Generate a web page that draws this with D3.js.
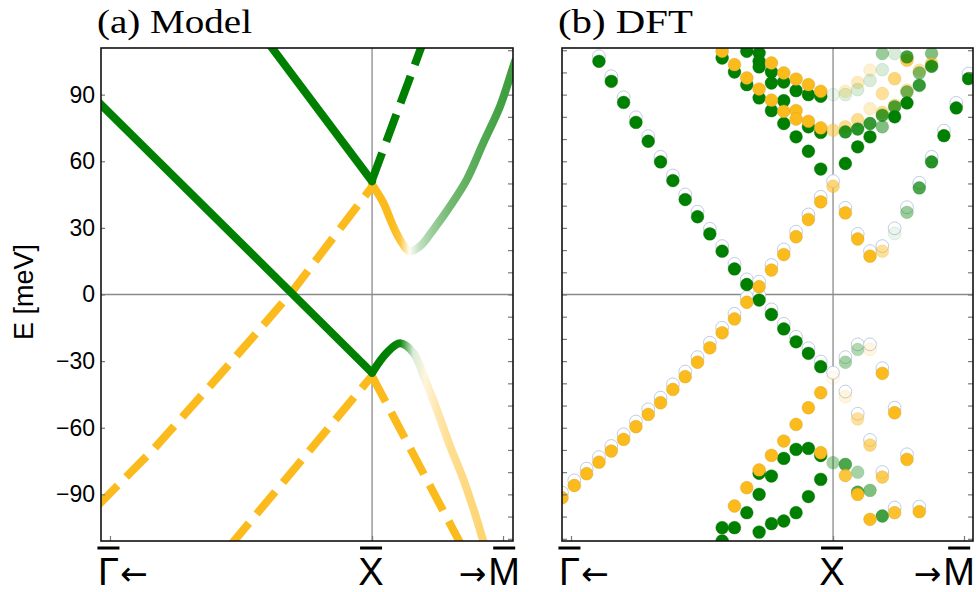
<!DOCTYPE html>
<html>
<head>
<meta charset="utf-8">
<script src="https://d3js.org/d3.v7.min.js"></script>
<style>
  body { margin: 0; background: #fff; }
  svg { display: block; }
</style>
</head>
<body>
<script>
// k is measured in steps of the DFT k-grid, X point at 0
const energyTicks = [-90, -60, -30, 0, 30, 60, 90];
const energyMinor = [-110, -100, -90, -80, -70, -60, -50, -40, -30, -20, -10, 0, 10, 20, 30, 40, 50, 60, 70, 80, 90, 100, 110];
const kTicks = [-21.27, 0, 10.63];
const kLetters = ["Γ", "X", "M"];
const panelTitles = ["(a) Model", "(b) DFT"];

// ---- panel (a) model bands ----
const lowerSolidK = [-22.3, 0];
const lowerSolidE = [87.2, -35.25];
const upperSolidK = [-8.6, 0];
const upperSolidE = [114.6, 51];
const greenDashK = [0, 4.2];
const greenDashE = [51.5, 114.5];
const yellowDashAK = [-22.3, -17.75, -13.4, -9.6, -6.6, -3.1, 0];
const yellowDashAE = [-95.3, -69.75, -42.75, -18.75, 0.5, 26, 48.5];
const yellowDashBK = [-11.5, 0];
const yellowDashBE = [-113, -36.6];
const yellowDashCK = [0, 7.3];
const yellowDashCE = [-36.75, -113.4];
// weight: +1 yellow, -1 green, 0 white
const upperMixK = [0, 0.92, 1.6, 2.27, 3.03, 3.9, 4.98, 6.33, 7.69, 9.03, 10.39, 11.34, 11.6];
const upperMixE = [49.5, 41.25, 32.25, 24.75, 19.5, 21.75, 29.25, 39.75, 51.75, 68.25, 84.75, 100.5, 105];
const upperMixW = [1, 1, 1, 0.85, 0.05, -0.25, -0.4, -0.55, -0.62, -0.68, -0.74, -0.76, -0.76];
const lowerMixK = [0, 1.19, 2.27, 3.35, 4.3, 5.25, 6.33, 7.41, 8.5, 8.99, 9.4];
const lowerMixE = [-35.25, -26.25, -22, -26.25, -38.25, -51.75, -68.25, -83.25, -101.25, -110.25, -116];
const lowerMixW = [-1, -1, -0.95, -0.15, 0.15, 0.35, 0.48, 0.55, 0.6, 0.62, 0.62];

// ---- panel (b) DFT points ----
const diracGreenK = [-19, -18, -17, -16, -15, -14, -13, -12, -11, -10, -9, -8, -7, -6, -5, -4, -3, -2, -1, 0, 1, 2, 3, 4, 5];
const diracGreenE = [105, 96, 86.5, 77.5, 69, 59.7, 51.3, 42.75, 35, 27.3, 19.5, 11.5, 4.5, -2.5, -9, -15.5, -21.3, -26.5, -32.5, -37.5, -46, -56, -67.8, -82.2, -98.25];
const diracGreenW = [-1, -1, -1, -1, -1, -1, -1, -1, -1, -1, -1, -1, -1, -1, -1, -1, -1, -1, -1, 0.08, 0.15, 0.45, 0.6, 0.75, 0.9];
const diracYellowK = [-22, -21, -20, -19, -18, -17, -16, -15, -14, -13, -12, -11, -10, -9, -8, -7, -6, -5, -4, -3, -2, -1, 0, 1, 2, 3, 4, 5, 6, 7, 8, 9, 10, 11];
const diracYellowE = [-91.5, -86, -80.7, -75.5, -70.5, -65.25, -59.5, -54, -48.75, -42.75, -37, -30.5, -24, -17.25, -11, -3.5, 3.5, 11, 18, 26, 33.75, 41.7, 48.75, 36.75, 25, 17.25, 19.5, 27.5, 37, 48, 59.7, 71.5, 84, 97.2];
const diracYellowW = [1, 1, 1, 1, 1, 1, 1, 1, 1, 1, 1, 1, 1, 1, 1, 1, 1, 1, 1, 1, 1, 1, 0.6, 1, 1, 1, 0.45, -0.08, -0.4, -0.7, -0.85, -1, -1, -1];
const lowRightK = [1, 2, 3, 4, 5, 6, 7];
const lowRightE = [-30.5, -24.75, -24.75, -35.5, -53.25, -74.25, -97.8];
const lowRightW = [-0.35, -0.3, 0.15, 1, 1, 1, 1];

const valenceYellowK = [-8, -7, -6, -5, -4, -3, -2, -1];
const valenceYellowE = [-95.25, -87, -79, -72.45, -66, -58.5, -51, -44.25];
const lowerGreenK = [-9, -9, -8, -7, -6, -6, -6, -5, -5, -4, -4, -3, -3, -2, -2, -1, -1, 0, 1, 2, 2, 3, 4];
const lowerGreenE = [-111, -105, -105, -98.25, -80.5, -90, -107, -81.75, -103.2, -73.8, -102, -69.75, -98.25, -69.3, -91, -72.5, -83.25, -75.75, -76.5, -80, -89, -88.2, -99.75];
const lowerGreenW = [-1, -1, -1, -1, -1, -1, -1, -1, -1, -1, -1, -1, -1, -1, -1, -1, -1, -0.35, -0.7, -0.35, -0.7, -0.5, -0.75];
const lowerYellowK = [-1, 1, 2, 3];
const lowerYellowE = [-71.25, -81.5, -90, -101.25];
const lowerYellowW = [1, 0.85, 1, 1];

const upperGreenK = [-9, -8, -7, -7, -6, -6, -6, -6, -5, -5, -5, -4, -4, -4, -3, -3, -2, -2, -2, -1, -1, -1];
const upperGreenE = [106.5, 100.2, 109.5, 94.5, 108.75, 105, 102.5, 88.5, 100.2, 95.25, 82.8, 95.7, 87.3, 77, 91.8, 71, 90, 75.5, 64.5, 89.25, 73, 56.5];
const upperYellowK = [-9, -8, -7, -6, -5, -5, -4, -4, -3, -3, -3, -2, -2, -1, -1];
const upperYellowE = [109.5, 103.5, 97.5, 92.5, 104.25, 87.5, 99.75, 82.5, 97, 82.8, 79, 94.5, 78, 91.5, 75];
const upperRightK = [0, 0, 1, 1, 1, 1, 1, 2, 2, 2, 2, 2, 3, 3, 3, 3, 3, 4, 4, 4, 4, 4, 4, 5, 5, 5, 5, 5, 6, 6, 6, 6, 6, 7, 7, 7, 8, 8, 8];
const upperRightE = [90, 74, 91.5, 90, 75.5, 73.2, 59, 95.5, 92.25, 78.75, 74.5, 66.5, 101, 96.4, 83.7, 77, 71, 108.5, 101.25, 90.5, 82, 80.7, 75.5, 108.5, 97.2, 85.2, 84.5, 80, 105.5, 107, 92, 91.2, 86.25, 101, 99.75, 94.2, 108.5, 104, 102.75];
const upperRightW = [-0.08, 0.5, 0.25, -0.12, 0.5, -0.85, -1, 0.3, -0.15, 0.5, -0.85, -1, 0.2, -0.15, 0.25, -0.8, -1, -0.4, -0.15, 0.45, 0.5, -0.75, -0.5, -0.15, 0.6, 0.5, -0.7, -1, 0.75, -0.75, 0.4, -0.55, -1, 0.4, -0.5, -0.8, -0.5, 0.6, -0.85];

const partnerShift = 2.3; // faint partner state sits just above

const yellow = "#fcbb1c", green = "#008000";
const sans = "'Liberation Sans', Arial, sans-serif";
const serif = "'Liberation Serif', 'Times New Roman', serif";
const arrowFont = "'DejaVu Sans', sans-serif";

const svg = d3.select("body").append("svg").attr("width", 978).attr("height", 592);
const defs = svg.append("defs");

const y = d3.scaleLinear().domain([-111, 111]).range([541, 48]);
const xA = d3.scaleLinear().domain([-22, 11.44]).range([101, 513]);
const xB = d3.scaleLinear().domain([-22, 11.36]).range([562, 973]);

function mix(w) {
    return d3.interpolateRgb("#ffffff", w >= 0 ? yellow : green)(Math.abs(w));
}

function setupPanel(x, id) {
    const [x0, x1] = x.range();
    defs.append("clipPath").attr("id", "clip" + id)
        .append("rect").attr("x", x0).attr("y", y(111)).attr("width", x1 - x0).attr("height", y(-111) - y(111));
    const g = svg.append("g");
    // reference lines
    g.append("line").attr("x1", x0).attr("x2", x1).attr("y1", y(0)).attr("y2", y(0))
        .attr("stroke", "#8a8a8a").attr("stroke-width", 1.3);
    g.append("line").attr("x1", x(0)).attr("x2", x(0)).attr("y1", y(111)).attr("y2", y(-111))
        .attr("stroke", "#8a8a8a").attr("stroke-width", 1.3);
    const plot = g.append("g").attr("clip-path", `url(#clip${id})`);
    return { g, plot };
}

function overbar(lab, t, index) {
    const ext = t.node().getExtentOfChar(index);
    lab.append("rect").attr("x", ext.x + ext.width / 2 - 11).attr("y", 546.5)
        .attr("width", 22).attr("height", 3).attr("fill", "#000");
}

function finishPanel(g, x, id, leftLabels) {
    const [x0, x1] = x.range();
    // left axis
    const left = g.append("g").attr("transform", `translate(${x0},0)`)
        .call(leftLabels
            ? d3.axisLeft(y).tickValues(energyTicks).tickSize(-4).tickPadding(6)
            : d3.axisLeft(y).tickValues(energyMinor).tickSize(-5).tickFormat(""));
    // right axis
    const right = g.append("g").attr("transform", `translate(${x1},0)`)
        .call(d3.axisRight(y).tickValues(energyMinor).tickSize(-5).tickFormat(""));
    // bottom ticks
    const bottom = g.append("g").attr("transform", `translate(0,${y(-111)})`)
        .call(d3.axisBottom(x).tickValues(kTicks).tickSize(-5).tickFormat(""));
    [left, right, bottom].forEach(a => {
        a.select(".domain").remove();
        a.selectAll(".tick line").attr("stroke", "#7a7a7a").attr("stroke-width", 1.2);
    });
    left.attr("font-family", sans).attr("font-size", 23);
    left.selectAll(".tick text").attr("fill", "#000");

    // frame
    g.append("rect").attr("x", x0).attr("y", y(111)).attr("width", x1 - x0).attr("height", y(-111) - y(111))
        .attr("fill", "none").attr("stroke", "#111").attr("stroke-width", 1.6);

    // k labels with overbars
    const lab = g.append("g").attr("font-family", sans).attr("font-size", 38).attr("fill", "#000");

    // Γ ←
    const tG = lab.append("text").attr("x", x(kTicks[0]) - 12).attr("y", 585);
    tG.append("tspan").text(kLetters[0]);
    tG.append("tspan").attr("dx", 1).attr("font-family", arrowFont).attr("font-size", 33).text("←");
    overbar(lab, tG, 0);

    // X
    const tX = lab.append("text").attr("x", x(kTicks[1]) - 1).attr("y", 585).attr("text-anchor", "middle").text(kLetters[1]);
    overbar(lab, tX, 0);

    // → M
    let endX = x(kTicks[2]) + 17;
    const tM = lab.append("text").attr("x", endX).attr("y", 585).attr("text-anchor", "end");
    tM.append("tspan").attr("font-family", arrowFont).attr("font-size", 33).text("→");
    tM.append("tspan").attr("dx", 2).text(kLetters[2]);
    const bb = tM.node().getBBox();
    if (bb.x + bb.width > 975) {
        endX -= bb.x + bb.width - 975;
        tM.attr("x", endX);
    }
    overbar(lab, tM, 1);
}

const line = x => d3.line().x(d => x(d[0])).y(d => y(d[1]));

function plainLine(plot, x, K, E, color, dashed) {
    plot.append("path").datum(K.map((k, i) => [k, E[i]]))
        .attr("d", line(x))
        .attr("fill", "none").attr("stroke", color).attr("stroke-width", 8)
        .attr("stroke-linecap", dashed ? "butt" : "round")
        .attr("stroke-dasharray", dashed ? "29,12" : null);
}

function mixedLine(plot, x, K, E, Wt, id) {
    const a = x(K[0]), b = x(K[K.length - 1]);
    const grad = defs.append("linearGradient").attr("id", id).attr("gradientUnits", "userSpaceOnUse")
        .attr("x1", a).attr("x2", b).attr("y1", 0).attr("y2", 0);
    K.forEach((k, i) => grad.append("stop").attr("offset", (x(k) - a) / (b - a)).attr("stop-color", mix(Wt[i])));
    plot.append("path").datum(K.map((k, i) => [k, E[i]]))
        .attr("d", line(x).curve(d3.curveCatmullRom))
        .attr("fill", "none").attr("stroke", `url(#${id})`).attr("stroke-width", 8)
        .attr("stroke-linecap", "round");
}

function title(x0, text, len) {
    svg.append("text").attr("x", x0).attr("y", 33).attr("font-family", serif).attr("font-size", 33)
        .attr("textLength", len).attr("lengthAdjust", "spacingAndGlyphs").text(text);
}

// ---- panel (a) ----
const pa = setupPanel(xA, "A");
plainLine(pa.plot, xA, yellowDashAK, yellowDashAE, yellow, true);
plainLine(pa.plot, xA, yellowDashBK, yellowDashBE, yellow, true);
plainLine(pa.plot, xA, yellowDashCK, yellowDashCE, yellow, true);
mixedLine(pa.plot, xA, upperMixK, upperMixE, upperMixW, "gradUpper");
mixedLine(pa.plot, xA, lowerMixK, lowerMixE, lowerMixW, "gradLower");
plainLine(pa.plot, xA, lowerSolidK, lowerSolidE, green, false);
plainLine(pa.plot, xA, upperSolidK, upperSolidE, green, false);
plainLine(pa.plot, xA, greenDashK, greenDashE, green, true);
finishPanel(pa.g, xA, "A", true);
title(97, panelTitles[0], 155);

// ---- panel (b) ----
const pb = setupPanel(xB, "B");
const r = 6.4;

function partners(K, E) {
    pb.plot.append("g").selectAll("circle").data(K.map((k, i) => [k, E[i]])).join("circle")
        .attr("cx", d => xB(d[0])).attr("cy", d => y(d[1] + partnerShift)).attr("r", r)
        .attr("fill", "#fff").attr("stroke", "#bfcde3").attr("stroke-width", 1);
}
function dots(K, E, Wt) {
    pb.plot.append("g").selectAll("circle").data(K.map((k, i) => [k, E[i], Wt[i]])).join("circle")
        .attr("cx", d => xB(d[0])).attr("cy", d => y(d[1])).attr("r", r)
        .attr("fill", d => d[2] >= 0 ? yellow : green)
        .attr("fill-opacity", d => Math.abs(d[2]))
        .attr("stroke", d => d[2] >= 0 ? "#c99a20" : "#0a6a0a")
        .attr("stroke-opacity", d => Math.max(0.15, Math.abs(d[2]) * 0.5))
        .attr("stroke-width", 0.7);
}
const ones = n => new Array(n).fill(1);

partners(diracGreenK, diracGreenE);
partners(diracYellowK, diracYellowE);
partners(lowRightK, lowRightE);

dots(lowerGreenK, lowerGreenE, lowerGreenW);
dots(valenceYellowK, valenceYellowE, ones(valenceYellowK.length));
dots(lowerYellowK, lowerYellowE, lowerYellowW);
dots(upperGreenK, upperGreenE, upperGreenK.map(() => -1));
dots(upperYellowK, upperYellowE, ones(upperYellowK.length));
dots(upperRightK, upperRightE, upperRightW);
dots(lowRightK, lowRightE, lowRightW);
dots(diracGreenK, diracGreenE, diracGreenW);
dots(diracYellowK, diracYellowE, diracYellowW);
finishPanel(pb.g, xB, "B", false);
title(558, panelTitles[1], 135);

// y label
svg.append("text").attr("transform", "translate(33,292) rotate(-90)").attr("text-anchor", "middle")
    .attr("font-family", sans).attr("font-size", 27).text("E [meV]");
</script>
</body>
</html>
